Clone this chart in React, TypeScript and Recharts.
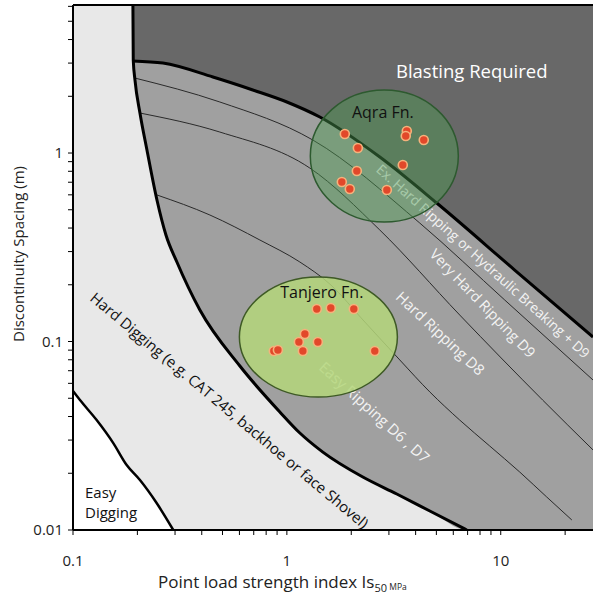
// Rippability chart: point load strength vs discontinuity spacing (log-log), Recharts.

import { Area, ComposedChart, Line, ReferenceLine, Scatter, XAxis, YAxis } from "recharts";

const W = 593;
const H = 596;
const X_MIN = 0.1;
const X_MAX = 27;
const Y_MIN = 0.01;
const Y_MAX = 6.1;

const xTicks = [0.1, 0.2, 0.3, 0.4, 0.5, 0.6, 0.7, 0.8, 0.9, 1, 2, 3, 4, 5, 6, 7, 8, 9, 10, 20];
const xTickLabels = [0.1, 1, 10];
const yTicks = [
  0.01, 0.02, 0.03, 0.04, 0.05, 0.06, 0.07, 0.08, 0.09, 0.1, 0.2, 0.3, 0.4, 0.5, 0.6, 0.7, 0.8, 0.9, 1, 2, 3, 4, 5, 6,
];
const yTickLabels = [0.01, 0.1, 1];

// zone boundaries, [Is50, spacing]
const easyDiggingEdge: [number, number][] = [
  [0.1, 0.0546], [0.1078, 0.0489], [0.129, 0.0383], [0.1543, 0.0289], [0.1782, 0.0221],
  [0.2056, 0.0184], [0.246, 0.0139], [0.2943, 0.01],
];
const diggingEdge: [number, number][] = [
  [0.1906, 6.1], [0.1913, 3.114], [0.1949, 2.439], [0.2056, 1.63], [0.2217, 1.037], [0.2469, 0.5631],
  [0.272, 0.3673], [0.306, 0.2641], [0.392, 0.1469], [0.603, 0.0741], [0.927, 0.0423], [1.15, 0.0327],
  [1.473, 0.0259], [2.265, 0.0191], [3.266, 0.01552], [4.66, 0.01261], [6.94, 0.01],
];
const blastingEdge: [number, number][] = [
  [0.1906, 3.08], [0.2634, 3.0], [0.451, 2.53], [0.693, 2.16], [1.0, 1.865], [1.426, 1.552],
  [2.72, 0.952], [5.02, 0.543], [11.62, 0.2394], [27, 0.1056],
];
const exHardEdge: [number, number][] = [
  [0.1945, 2.5], [0.486, 1.865], [1.323, 1.172], [4.183, 0.425], [10.44, 0.166], [27, 0.0625],
];
const veryHardEdge: [number, number][] = [
  [0.2056, 1.63], [0.486, 1.292], [1.281, 0.832], [2.72, 0.3904], [6.43, 0.1382], [15.7, 0.0489], [27, 0.0266],
];
const hardEdge: [number, number][] = [
  [0.2469, 0.599], [0.4365, 0.469], [0.748, 0.3455], [1.15, 0.2641], [1.588, 0.2018], [2.315, 0.1269],
  [3.373, 0.0798], [4.66, 0.054], [6.43, 0.0383], [8.88, 0.0279], [12.27, 0.0203], [16.4, 0.01497], [21.5, 0.0113],
];

// field data
const aqraX = [1.866, 2.147, 3.637, 3.597, 4.366, 3.484, 2.124, 1.807, 1.969, 2.934];
const aqraY = [1.262, 1.063, 1.308, 1.231, 1.172, 0.864, 0.803, 0.702, 0.644, 0.636];
const tanjeroX = [1.38, 1.605, 2.056, 1.214, 1.138, 1.396, 1.188, 0.869, 0.908, 2.577];
const tanjeroY = [0.1487, 0.1505, 0.1487, 0.1096, 0.0994, 0.0994, 0.089, 0.089, 0.0902, 0.089];

// formation envelopes (centres)
const groupNames = ["Aqra Fn.", "Tanjero Fn."];
const groupX = [2.855, 1.404];
const groupY = [0.964, 0.1056];
const groupLabelX = [2.81, 1.457];
const groupLabelY = [1.534, 0.17];

const zoneText = [
  "Blasting Required",
  "Ex. Hard Ripping or Hydraulic Breaking + D9",
  "Very Hard Ripping D9",
  "Hard Ripping D8",
  "Easy Ripping D6 , D7",
  "Hard Digging (e.g. CAT 245, backhoe or face Shovel)",
];
const zoneX = [7.32, 8.3, 8.24, 5.245, 2.577, 0.5415];
const zoneY = [2.73, 0.268, 0.16, 0.1109, 0.0423, 0.0433];

const zoneStyle = [
  { angle: 0, size: 18.5, color: "#ffffff" },
  { angle: 42, size: 13.8, color: "#f3f3f3" },
  { angle: 46, size: 14.5, color: "#f3f3f3" },
  { angle: 43, size: 15, color: "#f3f3f3" },
  { angle: 42, size: 15, color: "#f3f3f3" },
  { angle: 40, size: 15, color: "#111111" },
];

const envelopeStyle = [
  { rx: 74, ry: 66, fill: "#4c9a50", opacity: 0.45, stroke: "#2d5a2f" },
  { rx: 79, ry: 60, fill: "#b4d67a", opacity: 0.85, stroke: "#3e5a25" },
];

const toPts = (arr: [number, number][]) => arr.map(([x, y]) => ({ x, y }));
const toBand = (arr: [number, number][], top: number) => arr.map(([x, y]) => ({ x, band: [y, top] }));

const bgBand = [
  { x: X_MIN, band: [Y_MIN, Y_MAX] },
  { x: X_MAX, band: [Y_MIN, Y_MAX] },
];
const easyBand = easyDiggingEdge.map(([x, y]) => ({ x, band: [Y_MIN, y] }));
const rippingBand = [...toBand(diggingEdge, Y_MAX), { x: X_MAX, band: [Y_MIN, Y_MAX] }];
const blastingBand = toBand(blastingEdge, Y_MAX);

const zoneData = zoneText.map((text, i) => ({ x: zoneX[i], y: zoneY[i], i, text }));
const envelopeData = groupNames.map((name, i) => ({ x: groupX[i], y: groupY[i], i, name }));
const groupLabelData = groupNames.map((name, i) => ({ x: groupLabelX[i], y: groupLabelY[i], name }));
const aqraData = aqraX.map((x, i) => ({ x, y: aqraY[i] }));
const tanjeroData = tanjeroX.map((x, i) => ({ x, y: tanjeroY[i] }));
const easyLabelData = [{ x: 0.1138, y: 0.01478 }];

const FONT = "'Open Sans', 'DejaVu Sans', sans-serif";

function ZoneLabel(p: any) {
  const { cx, cy, payload } = p;
  if (cx == null || cy == null) return <g />;
  const s = zoneStyle[payload.i];
  return (
    <text
      x={cx}
      y={cy}
      textAnchor="middle"
      dominantBaseline="central"
      fontSize={s.size}
      fill={s.color}
      fontFamily={FONT}
      transform={s.angle ? `rotate(${s.angle}, ${cx}, ${cy})` : undefined}
    >
      {payload.text}
    </text>
  );
}

function Envelope(p: any) {
  const { cx, cy, payload } = p;
  if (cx == null || cy == null) return <g />;
  const s = envelopeStyle[payload.i];
  return (
    <ellipse
      cx={cx}
      cy={cy}
      rx={s.rx}
      ry={s.ry}
      fill={s.fill}
      fillOpacity={s.opacity}
      stroke={s.stroke}
      strokeWidth={1.5}
    />
  );
}

function GroupLabel(p: any) {
  const { cx, cy, payload } = p;
  if (cx == null || cy == null) return <g />;
  return (
    <text x={cx} y={cy} textAnchor="middle" fontSize={16} fill="#111" fontFamily={FONT}>
      {payload.name}
    </text>
  );
}

function SampleDot(p: any) {
  const { cx, cy } = p;
  if (cx == null || cy == null) return <g />;
  return <circle cx={cx} cy={cy} r={4.5} fill="#e2482a" stroke="#f5b27c" strokeWidth={1.6} />;
}

function EasyDiggingLabel(p: any) {
  const { cx, cy } = p;
  if (cx == null || cy == null) return <g />;
  return (
    <text x={cx} y={cy} fontSize={15} fill="#111" fontFamily={FONT}>
      <tspan x={cx}>Easy</tspan>
      <tspan x={cx} dy={20}>Digging</tspan>
    </text>
  );
}

export default function App() {
  return (
    <div
      style={{
        position: "absolute",
        left: 0,
        top: 0,
        width: W,
        height: H,
        background: "#ffffff",
        fontFamily: FONT,
      }}
    >
      <ComposedChart width={W} height={H} margin={{ top: 5, right: 0, bottom: 0, left: 0 }}>
        <Area data={bgBand} dataKey="band" type="linear" fill="#e8e8e8" fillOpacity={1} stroke="none" isAnimationActive={false} />
        <Area data={easyBand} dataKey="band" type="monotone" fill="#ffffff" fillOpacity={1} stroke="none" isAnimationActive={false} />
        <Area data={rippingBand} dataKey="band" type="monotone" fill="#a0a0a0" fillOpacity={1} stroke="none" isAnimationActive={false} />
        <Area data={blastingBand} dataKey="band" type="monotone" fill="#686868" fillOpacity={1} stroke="none" isAnimationActive={false} />

        <Line data={toPts(exHardEdge)} dataKey="y" type="monotone" stroke="#2a2a2a" strokeWidth={1} dot={false} isAnimationActive={false} />
        <Line data={toPts(veryHardEdge)} dataKey="y" type="monotone" stroke="#2a2a2a" strokeWidth={1} dot={false} isAnimationActive={false} />
        <Line data={toPts(hardEdge)} dataKey="y" type="monotone" stroke="#2a2a2a" strokeWidth={1} dot={false} isAnimationActive={false} />
        <Line data={toPts(diggingEdge)} dataKey="y" type="monotone" stroke="#000" strokeWidth={3} dot={false} isAnimationActive={false} />
        <Line data={toPts(blastingEdge)} dataKey="y" type="monotone" stroke="#000" strokeWidth={3} dot={false} isAnimationActive={false} />
        <Line data={toPts(easyDiggingEdge)} dataKey="y" type="monotone" stroke="#000" strokeWidth={2.5} dot={false} isAnimationActive={false} />

        <Scatter data={zoneData} dataKey="y" shape={ZoneLabel} isAnimationActive={false} />
        <Scatter data={easyLabelData} dataKey="y" shape={EasyDiggingLabel} isAnimationActive={false} />
        <Scatter data={envelopeData} dataKey="y" shape={Envelope} isAnimationActive={false} />
        <Scatter data={aqraData} dataKey="y" shape={SampleDot} isAnimationActive={false} />
        <Scatter data={tanjeroData} dataKey="y" shape={SampleDot} isAnimationActive={false} />
        <Scatter data={groupLabelData} dataKey="y" shape={GroupLabel} isAnimationActive={false} />

        <ReferenceLine y={Y_MAX} stroke="#000" strokeWidth={2} />

        <XAxis
          type="number"
          dataKey="x"
          scale="log"
          domain={[X_MIN, X_MAX]}
          allowDataOverflow
          ticks={xTicks}
          interval={0}
          height={66}
          tickSize={5}
          tickMargin={20}
          axisLine={{ stroke: "#000", strokeWidth: 2 }}
          tickLine={{ stroke: "#000", strokeWidth: 1 }}
          tick={{ fill: "#222", fontSize: 15, fontFamily: FONT }}
          tickFormatter={(v: number) => (xTickLabels.includes(v) ? String(v) : "")}
          label={{
            content: (props: any) => {
              const vb = props.viewBox || { x: 73, y: 530 };
              return (
                <text x={vb.x + 85} y={vb.y + 58} fontSize={17} fill="#222" fontFamily={FONT}>
                  Point load strength index Is
                  <tspan fontSize={11} dy={4}>50</tspan>
                  <tspan fontSize={8.5} dy={-2}> MPa</tspan>
                </text>
              );
            },
          }}
        />
        <YAxis
          type="number"
          dataKey="y"
          scale="log"
          domain={[Y_MIN, Y_MAX]}
          allowDataOverflow
          ticks={yTicks}
          interval={0}
          width={73}
          tickSize={5}
          tickMargin={5}
          axisLine={{ stroke: "#000", strokeWidth: 2 }}
          tickLine={{ stroke: "#000", strokeWidth: 1 }}
          tick={{ fill: "#222", fontSize: 15, fontFamily: FONT }}
          tickFormatter={(v: number) => (yTickLabels.includes(v) ? String(v) : "")}
          label={{
            content: () => (
              <text
                x={24}
                y={254}
                textAnchor="middle"
                fontSize={15}
                fill="#222"
                fontFamily={FONT}
                transform="rotate(-90, 24, 254)"
              >
                Discontinuity Spacing (m)
              </text>
            ),
          }}
        />
      </ComposedChart>
    </div>
  );
}
